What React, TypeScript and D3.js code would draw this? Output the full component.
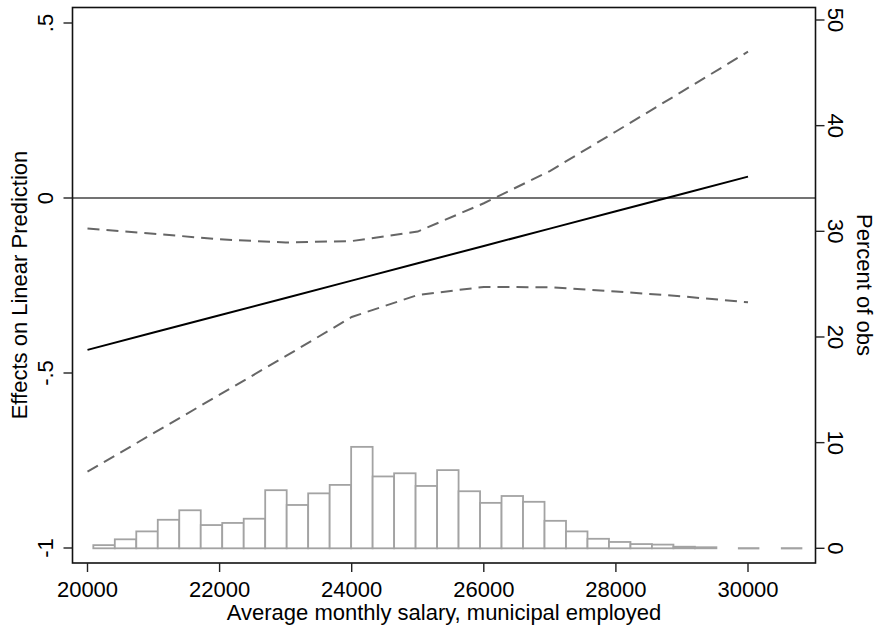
import React from 'react';
import * as d3 from 'd3';

// margins plot: effects on linear prediction over salary, with histogram on 2nd axis
const salary = [20000, 21000, 22000, 23000, 24000, 25000, 26000, 27000, 28000, 29000, 30000];
const effect = [-0.434, -0.3845, -0.335, -0.2855, -0.236, -0.1865, -0.137, -0.0875, -0.038, 0.0115, 0.061];
const ciUpper = [-0.087, -0.102, -0.118, -0.127, -0.123, -0.096, -0.015, 0.077, 0.19, 0.304, 0.418];
const ciLower = [-0.782, -0.672, -0.562, -0.452, -0.34, -0.277, -0.254, -0.255, -0.267, -0.281, -0.298];

// histogram (percent of obs), null = empty bin
const binStart = 20088;
const binWidth = 325.3;
const histPct: (number | null)[] = [
  0.3, 0.85, 1.6, 2.7, 3.6, 2.2, 2.4, 2.8, 5.5, 4.1, 5.2, 6.0, 9.6, 6.8, 7.1, 5.9, 7.4,
  5.4, 4.3, 4.95, 4.4, 2.6, 1.6, 0.9, 0.6, 0.4, 0.35, 0.15, 0.1, null, 0, null, 0,
];

const xTicks = [20000, 22000, 24000, 26000, 28000, 30000];
const yTicks = [-1, -0.5, 0, 0.5];
const yTickLabels = ['-1', '-.5', '0', '.5'];
const y2Ticks = [0, 10, 20, 30, 40, 50];

const W = 877;
const H = 631;
const box = { left: 72.5, right: 815.5, top: 7.5, bottom: 563 };
const font = '"Liberation Sans", Arial, Helvetica, sans-serif';

const App = () => {
  const x = d3.scaleLinear().domain([20000, 30000]).range([87.5, 748]);
  const y = d3.scaleLinear().domain([-1, 0.5]).range([548, 23]);
  const y2 = d3.scaleLinear().domain([0, 50]).range([548.3, 20]);

  const line = d3.line<number>()
    .x((_, i) => x(salary[i]))
    .y(d => y(d));

  return (
    <div style={{ position: 'absolute', left: 0, top: 0 }}>
      <svg width={W} height={H} style={{ display: 'block', background: '#fff' }} fontFamily={font}>
        {/* histogram on second axis */}
        <g>
          {histPct.map((v, i) => {
            if (v === null) return null;
            const x0 = x(binStart + i * binWidth);
            const x1 = x(binStart + (i + 1) * binWidth);
            if (v === 0) {
              return <line key={i} x1={x0} x2={x1} y1={y2(0)} y2={y2(0)} stroke="#a3a3a3" strokeWidth="2.2" />;
            }
            return (
              <rect
                key={i}
                x={x0}
                y={y2(v)}
                width={x1 - x0}
                height={y2(0) - y2(v)}
                fill="#fff"
                stroke="#a3a3a3"
                strokeWidth="1.8"
              />
            );
          })}
        </g>

        {/* zero reference line */}
        <line x1={box.left} x2={box.right} y1={y(0)} y2={y(0)} stroke="#444" strokeWidth="1.5" />

        {/* confidence bounds */}
        <path d={line(ciUpper) || ''} fill="none" stroke="#666" strokeWidth="2" strokeDasharray="12,7" />
        <path d={line(ciLower) || ''} fill="none" stroke="#666" strokeWidth="2" strokeDasharray="12,7" />

        {/* fitted effect */}
        <path d={line(effect) || ''} fill="none" stroke="#000" strokeWidth="2" />

        {/* frame */}
        <rect
          x={box.left}
          y={box.top}
          width={box.right - box.left}
          height={box.bottom - box.top}
          fill="none"
          stroke="#111"
          strokeWidth="1.6"
        />

        {/* left axis */}
        {yTicks.map((t, i) => (
          <g key={i}>
            <line x1={box.left - 9} x2={box.left} y1={y(t)} y2={y(t)} stroke="#222" strokeWidth="1.4" />
            <text
              x={53}
              y={y(t)}
              transform={`rotate(-90,53,${y(t)})`}
              textAnchor="middle"
              fontSize="22"
              fill="#000"
            >
              {yTickLabels[i]}
            </text>
          </g>
        ))}
        <text
          x={26.5}
          y={285}
          transform="rotate(-90,26.5,285)"
          textAnchor="middle"
          fontSize="22"
          fill="#000"
        >
          Effects on Linear Prediction
        </text>

        {/* right axis */}
        {y2Ticks.map((t, i) => (
          <g key={i}>
            <line x1={box.right} x2={box.right + 9} y1={y2(t)} y2={y2(t)} stroke="#222" strokeWidth="1.4" />
            <text
              x={828}
              y={y2(t)}
              transform={`rotate(90,828,${y2(t)})`}
              textAnchor="middle"
              fontSize="22"
              fill="#000"
            >
              {t}
            </text>
          </g>
        ))}
        <text
          x={857}
          y={285}
          transform="rotate(90,857,285)"
          textAnchor="middle"
          fontSize="22"
          fill="#000"
        >
          Percent of obs
        </text>

        {/* bottom axis */}
        {xTicks.map((t, i) => (
          <g key={i}>
            <line x1={x(t)} x2={x(t)} y1={box.bottom} y2={box.bottom + 9} stroke="#222" strokeWidth="1.4" />
            <text x={x(t)} y={596.5} textAnchor="middle" fontSize="22" fill="#000">
              {t}
            </text>
          </g>
        ))}
        <text x={(box.left + box.right) / 2} y={620} textAnchor="middle" fontSize="22" fill="#000">
          Average monthly salary, municipal employed
        </text>
      </svg>
    </div>
  );
};

export default App;
